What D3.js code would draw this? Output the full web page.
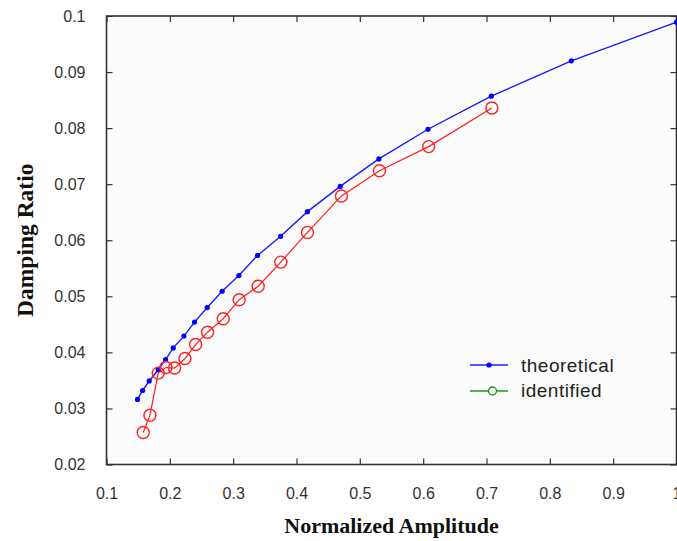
<!DOCTYPE html>
<html>
<head>
<meta charset="utf-8">
<script src="https://cdn.jsdelivr.net/npm/d3@7"></script>
<style>
  body { margin: 0; background: #fff; }
  svg { display: block; }
  .tick text { font-family: "Liberation Sans", Arial, sans-serif; font-size: 16px; fill: #333; }
</style>
</head>
<body>
<svg id="chart" width="677" height="541"></svg>
<script>
// theoretical curve (blue dots)
var theoX = [0.149, 0.157, 0.1675, 0.1817, 0.1933, 0.2054, 0.2222, 0.239, 0.259, 0.2826,
             0.309, 0.3385, 0.375, 0.4173, 0.469, 0.530, 0.6076, 0.7076, 0.834, 1.0];
var theoY = [0.0316, 0.0332, 0.0349, 0.0369, 0.0387, 0.0408, 0.0429, 0.0454, 0.048, 0.0509,
             0.0537, 0.0573, 0.0607, 0.0651, 0.0696, 0.0745, 0.0798, 0.0857, 0.092, 0.0989];
// identified (red circles)
var identX = [0.158, 0.1686, 0.1817, 0.1938, 0.2075, 0.2238, 0.2407, 0.2596, 0.2843,
              0.3095, 0.3395, 0.3752, 0.4173, 0.471, 0.531, 0.6087, 0.7085];
var identY = [0.0257, 0.0288, 0.0363, 0.0373, 0.0372, 0.0389, 0.0414, 0.0436, 0.046,
              0.0494, 0.0518, 0.0561, 0.0614, 0.0679, 0.0724, 0.0767, 0.0836];
var xTicks = [0.1, 0.2, 0.3, 0.4, 0.5, 0.6, 0.7, 0.8, 0.9, 1];
var yTicks = [0.02, 0.03, 0.04, 0.05, 0.06, 0.07, 0.08, 0.09, 0.1];

var svg = d3.select("#chart");
var plotL = 106.5, plotR = 676.5, plotT = 16, plotB = 464.5;

var x = d3.scaleLinear().domain([0.1, 1]).range([plotL, plotR]);
var y = d3.scaleLinear().domain([0.02, 0.1]).range([plotB, plotT]);

// plot background
svg.append("rect")
  .attr("x", plotL).attr("y", plotT)
  .attr("width", plotR - plotL).attr("height", plotB - plotT)
  .attr("fill", "#fbfbfb");

var fmt = function(d) { return d === 1 ? "1" : String(+d.toFixed(2)); };

function styleAxis(g) {
  g.select(".domain").remove();
  g.selectAll(".tick line").attr("stroke", "#333").attr("stroke-width", 1.2);
}

// bottom / top / left / right axes, ticks pointing inward
svg.append("g").attr("transform", "translate(0," + plotB + ")")
  .call(d3.axisBottom(x).tickValues(xTicks).tickFormat(fmt).tickSize(-6).tickPadding(23))
  .call(styleAxis);
svg.append("g").attr("transform", "translate(0," + plotT + ")")
  .call(d3.axisTop(x).tickValues(xTicks).tickFormat("").tickSize(-6))
  .call(styleAxis);
svg.append("g").attr("transform", "translate(" + plotL + ",0)")
  .call(d3.axisLeft(y).tickValues(yTicks).tickFormat(fmt).tickSize(-6).tickPadding(21))
  .call(styleAxis);
svg.append("g").attr("transform", "translate(" + plotR + ",0)")
  .call(d3.axisRight(y).tickValues(yTicks).tickFormat("").tickSize(-6))
  .call(styleAxis);

svg.selectAll(".tick text").attr("fill", "#3a3a3a");

// frame
svg.append("rect")
  .attr("x", plotL).attr("y", plotT)
  .attr("width", plotR - plotL).attr("height", plotB - plotT)
  .attr("fill", "none").attr("stroke", "#333").attr("stroke-width", 1.6);

var line = d3.line().x(function(d) { return x(d[0]); }).y(function(d) { return y(d[1]); });

var theo = d3.zip(theoX, theoY);
var ident = d3.zip(identX, identY);

svg.append("path").datum(theo)
  .attr("d", line).attr("fill", "none").attr("stroke", "#1a1aff").attr("stroke-width", 1.4);
svg.append("g").selectAll("circle").data(theo).enter().append("circle")
  .attr("cx", function(d) { return x(d[0]); })
  .attr("cy", function(d) { return y(d[1]); })
  .attr("r", 2.6).attr("fill", "#0000ff");

svg.append("path").datum(ident)
  .attr("d", line).attr("fill", "none").attr("stroke", "#ff2020").attr("stroke-width", 1.2);
svg.append("g").selectAll("circle").data(ident).enter().append("circle")
  .attr("cx", function(d) { return x(d[0]); })
  .attr("cy", function(d) { return y(d[1]); })
  .attr("r", 6).attr("fill", "none").attr("stroke", "#ff2020").attr("stroke-width", 1.4);

// legend
var lg = svg.append("g");
lg.append("line").attr("x1", 470).attr("x2", 508).attr("y1", 365).attr("y2", 365)
  .attr("stroke", "#1a1aff").attr("stroke-width", 1.4);
lg.append("circle").attr("cx", 489).attr("cy", 365).attr("r", 2.6).attr("fill", "#0000ff");
lg.append("line").attr("x1", 470).attr("x2", 508).attr("y1", 391).attr("y2", 391)
  .attr("stroke", "#1a9a1a").attr("stroke-width", 1.4);
lg.append("circle").attr("cx", 492.5).attr("cy", 391).attr("r", 4)
  .attr("fill", "#fbfbfb").attr("stroke", "#1a9a1a").attr("stroke-width", 1.4);
lg.append("text").attr("x", 521).attr("y", 372)
  .style("font-family", "Liberation Sans, Arial, sans-serif").style("font-size", "19px")
  .style("letter-spacing", "0.5px").attr("fill", "#222").text("theoretical");
lg.append("text").attr("x", 521).attr("y", 397)
  .style("font-family", "Liberation Sans, Arial, sans-serif").style("font-size", "19px")
  .style("letter-spacing", "0.5px").attr("fill", "#222").text("identified");

// axis titles
svg.append("text")
  .attr("x", (plotL + plotR) / 2).attr("y", 533)
  .attr("text-anchor", "middle")
  .style("font-family", "Liberation Serif, Times New Roman, serif")
  .style("font-size", "22px").style("font-weight", "bold").attr("fill", "#111")
  .text("Normalized Amplitude");
svg.append("text")
  .attr("transform", "translate(33," + (plotT + plotB) / 2 + ") rotate(-90)")
  .attr("text-anchor", "middle")
  .style("font-family", "Liberation Serif, Times New Roman, serif")
  .style("font-size", "23.5px").style("font-weight", "bold").attr("fill", "#111")
  .text("Damping Ratio");
</script>
</body>
</html>
